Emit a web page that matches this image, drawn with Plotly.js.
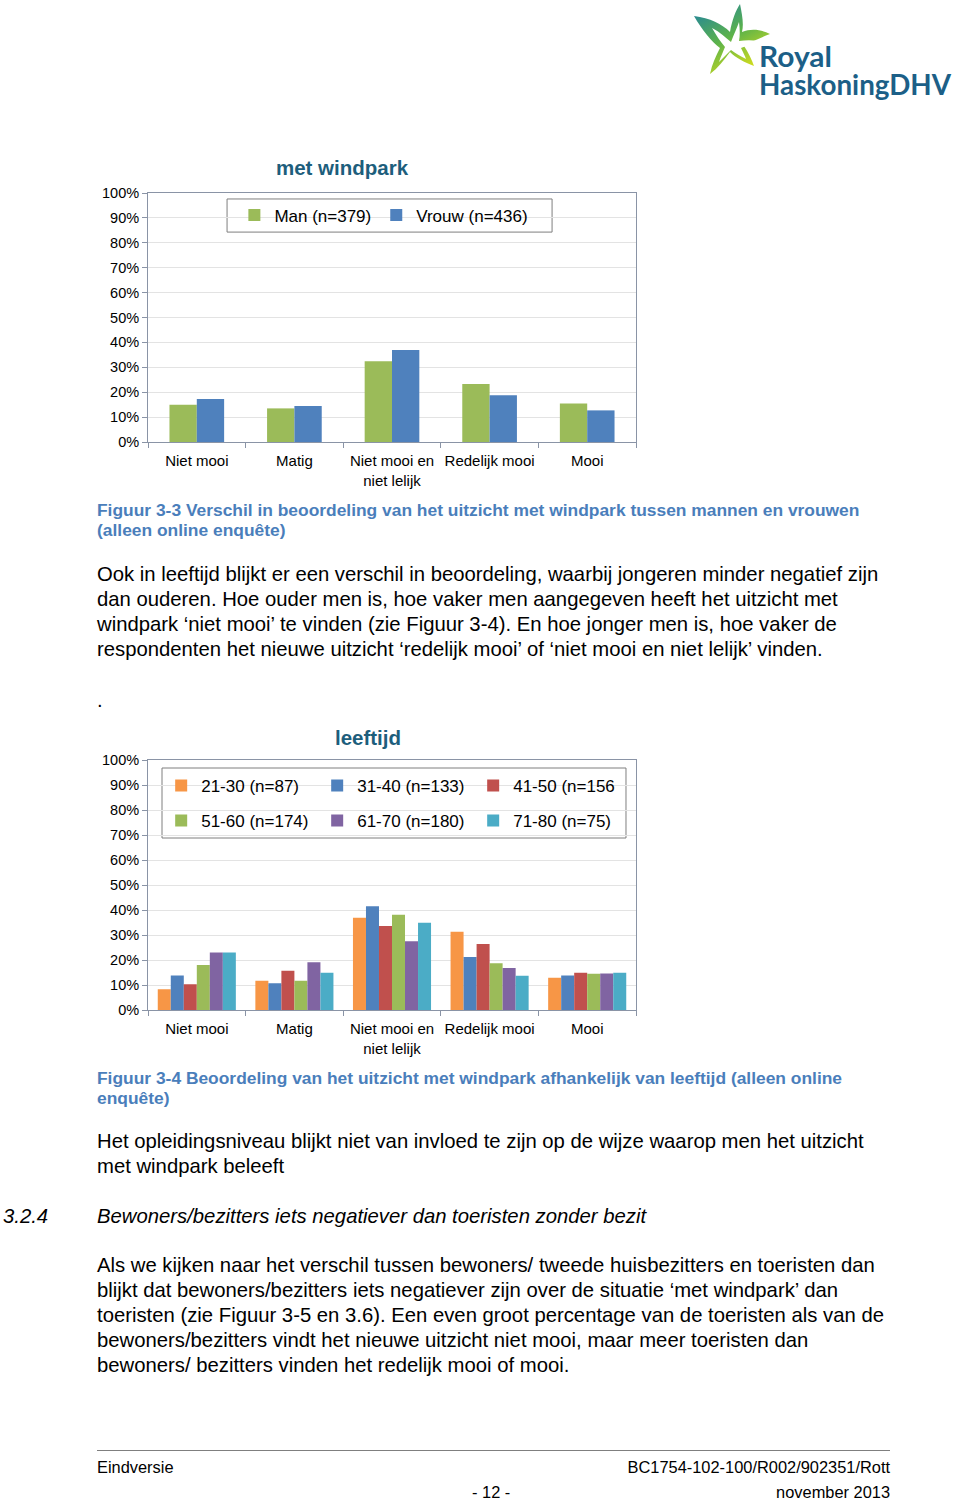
<!DOCTYPE html>
<html>
<head>
<meta charset="utf-8">
<script src="https://cdn.plot.ly/plotly-3.0.1.min.js"></script>
<style>
  html, body { margin:0; padding:0; background:#fff; }
  body { width:960px; height:1499px; position:relative; overflow:hidden; font-family:"Liberation Sans", Arial, sans-serif; color:#000; }
  .t { position:absolute; white-space:nowrap; }
  .body { font-size:20.3px; line-height:25px; left:97px; }
  .cap { font-size:17.4px; line-height:20px; left:97px; font-weight:bold; color:#4A7EBB; }
  .foot { font-size:16.4px; line-height:20px; }
  #c1 { position:absolute; left:0; top:150px; width:700px; height:350px; }
  #c2 { position:absolute; left:0; top:720px; width:700px; height:350px; }
  #logo { position:absolute; left:680px; top:0; }
</style>
</head>
<body>
<svg id="logo" width="280" height="110" viewBox="680 0 280 110">
  <defs>
    <linearGradient id="g" x1="0" y1="0" x2="0.6" y2="1">
      <stop offset="0" stop-color="#1B7FA6"/>
      <stop offset="0.55" stop-color="#5DB34A"/>
      <stop offset="1" stop-color="#D3DD1C"/>
    </linearGradient>
  </defs>
  <path d="M694,16 C710,18 722,24 730,32 C732,20 736,10 740,4 C742,14 744,24 742,32 C752,28 762,30 770,34 C760,38 750,42 744,46 C748,52 752,60 754,66 C744,62 736,58 730,52 C724,60 718,68 710,74 C712,64 716,56 720,48 C712,42 702,30 694,16 Z" fill="url(#g)"/>
  <path d="M712,28 C720,32 726,38 731,42 C734,34 737,28 739,22 C740,30 740,36 739,41 C746,40 752,40 758,41 C752,44 746,46 741,48 C743,52 745,56 746,59 C740,56 735,53 731,50 C727,54 723,58 719,62 C721,56 723,52 725,47 C720,41 716,35 712,28 Z" fill="#fff"/>
  <text font-family="Lato, 'Open Sans', sans-serif" font-weight="bold" font-size="28" fill="#1C5F87"><tspan x="759" y="67" textLength="73" lengthAdjust="spacingAndGlyphs">Royal</tspan><tspan x="759" y="95" textLength="192" lengthAdjust="spacingAndGlyphs">HaskoningDHV</tspan></text>
</svg>

<div id="c1"></div>

<div class="t cap" style="top:500px;">Figuur 3-3 Verschil in beoordeling van het uitzicht met windpark tussen mannen en vrouwen<br>(alleen online enquête)</div>

<div class="t body" style="top:561.5px;">Ook in leeftijd blijkt er een verschil in beoordeling, waarbij jongeren minder negatief zijn<br>dan ouderen. Hoe ouder men is, hoe vaker men aangegeven heeft het uitzicht met<br>windpark ‘niet mooi’ te vinden (zie Figuur 3-4). En hoe jonger men is, hoe vaker de<br>respondenten het nieuwe uitzicht ‘redelijk mooi’ of ‘niet mooi en niet lelijk’ vinden.</div>

<div class="t body" style="top:687.5px;">.</div>

<div id="c2"></div>

<div class="t cap" style="top:1068px;">Figuur 3-4 Beoordeling van het uitzicht met windpark afhankelijk van leeftijd (alleen online<br>enquête)</div>

<div class="t body" style="top:1128.5px;">Het opleidingsniveau blijkt niet van invloed te zijn op de wijze waarop men het uitzicht<br>met windpark beleeft</div>

<div class="t body" style="top:1203.5px; left:3px; font-style:italic;">3.2.4</div>
<div class="t body" style="top:1203.5px; font-style:italic;">Bewoners/bezitters iets negatiever dan toeristen zonder bezit</div>

<div class="t body" style="top:1252.5px;">Als we kijken naar het verschil tussen bewoners/ tweede huisbezitters en toeristen dan<br>blijkt dat bewoners/bezitters iets negatiever zijn over de situatie ‘met windpark’ dan<br>toeristen (zie Figuur 3-5 en 3.6). Een even groot percentage van de toeristen als van de<br>bewoners/bezitters vindt het nieuwe uitzicht niet mooi, maar meer toeristen dan<br>bewoners/ bezitters vinden het redelijk mooi of mooi.</div>

<div style="position:absolute; left:97px; top:1450px; width:793px; height:1px; background:#7f7f7f;"></div>
<div class="t foot" style="left:97px; top:1457px;">Eindversie</div>
<div class="t foot" style="right:70px; top:1457px;">BC1754-102-100/R002/902351/Rott</div>
<div class="t foot" style="left:472px; top:1482px;">- 12 -</div>
<div class="t foot" style="right:70px; top:1482px;">november 2013</div>

<script>
// ---------- data ----------
const categories = ["Niet mooi", "Matig", "Niet mooi en<br>niet lelijk", "Redelijk mooi", "Mooi"];
const yTickVals = [0, 0.1, 0.2, 0.3, 0.4, 0.5, 0.6, 0.7, 0.8, 0.9, 1.0];
const yTickText = ["0%", "10%", "20%", "30%", "40%", "50%", "60%", "70%", "80%", "90%", "100%"];

// Figuur 3-3: met windpark, man vs vrouw
const genderNames = ["Man (n=379)", "Vrouw (n=436)"];
const man   = [0.150, 0.135, 0.324, 0.233, 0.155];
const vrouw = [0.173, 0.145, 0.369, 0.188, 0.127];

// Figuur 3-4: leeftijd
const ageNames = ["21-30 (n=87)", "31-40 (n=133)", "41-50 (n=156", "51-60 (n=174)", "61-70 (n=180)", "71-80 (n=75)"];
const age21_30 = [0.083, 0.117, 0.369, 0.313, 0.129];
const age31_40 = [0.138, 0.107, 0.415, 0.212, 0.138];
const age41_50 = [0.103, 0.157, 0.336, 0.264, 0.149];
const age51_60 = [0.180, 0.117, 0.381, 0.187, 0.145];
const age61_70 = [0.230, 0.191, 0.275, 0.168, 0.146];
const age71_80 = [0.230, 0.149, 0.349, 0.137, 0.149];

// ---------- style ----------
const FONT = "Liberation Sans, Arial, sans-serif";
const AXC = "#8A94A6";
const GRID = "#E3E3E3";

function axes() {
  return {
    xaxis: {
      type: "category", showgrid: false, zeroline: false,
      showline: true, linecolor: AXC, linewidth: 1, mirror: true,
      ticks: "outside", tickson: "boundaries", ticklen: 5, tickcolor: AXC,
      tickangle: 0, automargin: false, ticklabelstandoff: 5,
      tickfont: { family: FONT, size: 15, color: "#000" }, fixedrange: true
    },
    yaxis: {
      range: [0, 1], tickvals: yTickVals, ticktext: yTickText,
      showgrid: true, gridcolor: GRID, gridwidth: 1, zeroline: false,
      showline: true, linecolor: AXC, linewidth: 1, mirror: true,
      ticks: "outside", ticklen: 5, tickcolor: AXC, automargin: false,
      tickfont: { family: FONT, size: 14.5, color: "#000" }, fixedrange: true
    }
  };
}

// ---------- chart 1 ----------
const c1traces = [
  { type: "bar", name: genderNames[0], x: categories, y: man, marker: { color: "#9BBB59" }, hoverinfo: "skip" },
  { type: "bar", name: genderNames[1], x: categories, y: vrouw, marker: { color: "#4F81BD" }, hoverinfo: "skip" }
];
const a1 = axes();
const c1layout = Object.assign({
  width: 700, height: 350,
  margin: { l: 148, r: 64, t: 43, b: 58 },
  paper_bgcolor: "rgba(0,0,0,0)", plot_bgcolor: "#fff",
  barmode: "group", bargap: 0.44, bargroupgap: 0,
  font: { family: FONT, color: "#000" },
  title: { text: "<b>met windpark</b>", font: { family: FONT, size: 20.5, color: "#1D5E7C" },
           x: 342 / 700, xanchor: "center", xref: "container", y: 1 - 18 / 350, yanchor: "middle", yref: "container" },
  showlegend: true,
  legend: { orientation: "h", x: 0.177, xanchor: "left", y: 0.91, yanchor: "middle",
            bgcolor: "rgba(0,0,0,0)", borderwidth: 0, itemwidth: 30,
            font: { family: FONT, size: 17, color: "#000" } },
  shapes: [{ type: "rect", xref: "paper", yref: "paper", x0: 0.162, x1: 0.828, y0: 0.843, y1: 0.976,
             line: { color: "#7F7F7F", width: 1 }, fillcolor: "#fff", layer: "below" }]
}, a1);
Plotly.newPlot("c1", c1traces, c1layout, { displayModeBar: false, staticPlot: true });

// ---------- chart 2 ----------
const ageSeries = [age21_30, age31_40, age41_50, age51_60, age61_70, age71_80];
const ageColors = ["#F79646", "#4F81BD", "#C0504D", "#9BBB59", "#8064A2", "#4BACC6"];
const c2traces = ageSeries.map((s, i) => ({
  type: "bar", name: ageNames[i], x: categories, y: s,
  marker: { color: ageColors[i] }, hoverinfo: "skip",
  legend: i < 3 ? "legend" : "legend2"
}));
const a2 = axes();
const legCommon = { orientation: "h", xanchor: "left", yanchor: "middle", bgcolor: "rgba(0,0,0,0)",
                    borderwidth: 0, entrywidth: 111, itemwidth: 30, font: { family: FONT, size: 17, color: "#000" } };
const c2layout = Object.assign({
  width: 700, height: 350,
  margin: { l: 148, r: 64, t: 40, b: 60 },
  paper_bgcolor: "rgba(0,0,0,0)", plot_bgcolor: "#fff",
  barmode: "group", bargap: 0.2, bargroupgap: 0,
  font: { family: FONT, color: "#000" },
  title: { text: "<b>leeftijd</b>", font: { family: FONT, size: 20.5, color: "#1D5E7C" },
           x: 368 / 700, xanchor: "center", xref: "container", y: 1 - 18 / 350, yanchor: "middle", yref: "container" },
  showlegend: true,
  legend: Object.assign({}, legCommon, { x: 0.027, y: 0.896 }),
  legend2: Object.assign({}, legCommon, { x: 0.027, y: 0.756 }),
  shapes: [{ type: "rect", xref: "paper", yref: "paper", x0: 0.0287, x1: 0.9795, y0: 0.688, y1: 0.968,
             line: { color: "#7F7F7F", width: 1 }, fillcolor: "#fff", layer: "below" }]
}, a2);
Plotly.newPlot("c2", c2traces, c2layout, { displayModeBar: false, staticPlot: true });
</script>
</body>
</html>
